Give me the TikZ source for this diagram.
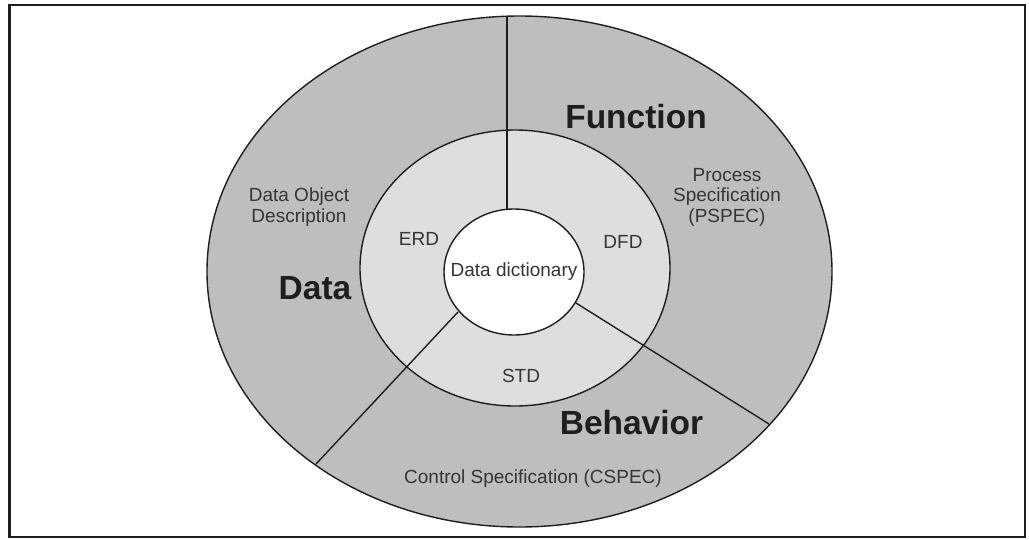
\documentclass[tikz,border=0pt]{standalone}
\usepackage{fontspec}
\setmainfont{Liberation Sans}
\usetikzlibrary{shapes.geometric}
\definecolor{outergray}{HTML}{BEBEBE}
\definecolor{midgray}{HTML}{DEDEDE}
\definecolor{inkc}{HTML}{1E1E1E}
\tikzset{
  ring/.style={ellipse, draw=inkc, line width=1.4pt, inner sep=0pt, outer sep=0pt},
  divider/.style={draw=inkc, line width=1.4pt},
  smalltext/.style={text=inkc!90, font=\fontsize{19}{20.5}\selectfont, inner sep=0pt, align=center},
  bigtext/.style={text=inkc, font=\fontsize{33.5}{36}\selectfont\bfseries, inner sep=0pt}
}
\begin{document}
\begin{tikzpicture}[x=1pt,y=-1pt]
\useasboundingbox (0,0) rectangle (1029,539);
\draw[line width=2.5pt, draw=inkc] (9.5,5) rectangle (1025,537);
% rings
\node[ring, fill=outergray, minimum width=625pt, minimum height=511pt] (outer) at (519.5,271.5) {};
\node[ring, fill=midgray, minimum width=310pt, minimum height=276pt] (middle) at (515,268) {};
% divider end points
\coordinate (vtop) at (507,16.2);
\coordinate (vbot) at (507,209.3);
\coordinate (lin) at (458,312);
\coordinate (lout) at (316,464);
\coordinate (rin) at (576,303);
\coordinate (rout) at (769,424);
\draw[divider] (vbot) -- (vtop);
\draw[divider] (lin) -- (lout);
\draw[divider] (rin) -- (rout);
% inner
\node[ring, fill=white, minimum width=140pt, minimum height=126pt] (dd) at (514,272) {};
\node[smalltext] (ddl) at (dd.center) {Data dictionary};
% labels
\node[bigtext, anchor=base] (func) at (636,128) {Function};
\node[bigtext, anchor=base] (beh) at (631.5,434) {Behavior};
\node[bigtext, anchor=base] (data) at (315,299) {Data};
\node[smalltext, anchor=base] (erd) at (419,245) {ERD};
\node[smalltext, anchor=base] (dfd) at (623,248) {DFD};
\node[smalltext, anchor=base] (std) at (521,382) {STD};
\node[smalltext, anchor=base] (cspec) at (533,483) {Control Specification (CSPEC)};
\node[smalltext] (dod) at (299,207) {Data Object\\Description};
\node[smalltext] (pspec) at (727,197) {Process\\Specification\\(PSPEC)};
\end{tikzpicture}
\end{document}
